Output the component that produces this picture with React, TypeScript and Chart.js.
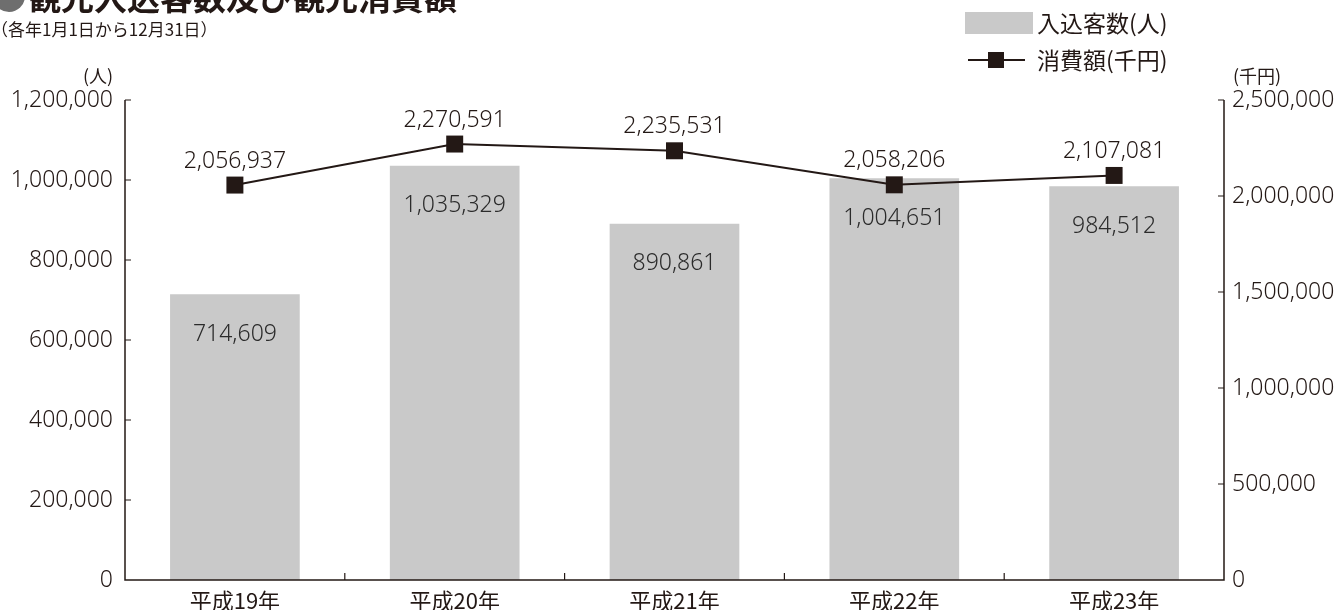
import React, { useEffect, useRef } from "react";
import { Chart, registerables } from "chart.js";

Chart.register(...registerables);

const categories = ["平成19年", "平成20年", "平成21年", "平成22年", "平成23年"];
const visitors = [714609, 1035329, 890861, 1004651, 984512];
const spending = [2056937, 2270591, 2235531, 2058206, 2107081];
const leftTicks = { min: 0, max: 1200000, step: 200000 };
const rightTicks = { min: 0, max: 2500000, step: 500000 };

const TITLE = "観光入込客数及び観光消費額";
const SUBTITLE = "（各年1月1日から12月31日）";
const LEGEND_BAR = "入込客数(人)";
const LEGEND_LINE = "消費額(千円)";
const UNIT_LEFT = "(人)";
const UNIT_RIGHT = "(千円)";

const INK = "#231815";
const BAR = "#c9c9c9";
const NUM_FONT = '"Noto Sans", "Noto Sans CJK JP", sans-serif';
const JP_FONT = '"Noto Sans CJK JP", "Noto Sans", sans-serif';

const fmt = (v: number) => v.toLocaleString("en-US");

const decorPlugin = {
  id: "decor",
  afterDraw(chart: any) {
    const { ctx, chartArea } = chart;
    const { left, right, top, bottom } = chartArea;
    const y = chart.scales.y;
    const y1 = chart.scales.y1;
    const x = chart.scales.x;
    ctx.save();

    // axes
    ctx.strokeStyle = INK;
    ctx.lineWidth = 1.5;
    ctx.beginPath();
    ctx.moveTo(left, top);
    ctx.lineTo(left, bottom);
    ctx.lineTo(right, bottom);
    ctx.lineTo(right, top);
    ctx.stroke();

    // inward tick marks
    ctx.lineWidth = 1.2;
    ctx.beginPath();
    y.ticks.forEach((t: any) => {
      const py = y.getPixelForValue(t.value);
      if (t.value === 0) return;
      ctx.moveTo(left, py);
      ctx.lineTo(left + 6, py);
    });
    y1.ticks.forEach((t: any) => {
      const py = y1.getPixelForValue(t.value);
      if (t.value === 0) return;
      ctx.moveTo(right, py);
      ctx.lineTo(right - 6, py);
    });
    for (let i = 1; i < categories.length; i++) {
      const px = (x.getPixelForValue(i - 1) + x.getPixelForValue(i)) / 2;
      ctx.moveTo(px, bottom);
      ctx.lineTo(px, bottom - 7);
    }
    ctx.stroke();

    // data labels
    ctx.font = `300 23px ${NUM_FONT}`;
    ctx.textAlign = "center";
    ctx.textBaseline = "middle";
    ctx.fillStyle = "#2b2b2b";
    chart.getDatasetMeta(0).data.forEach((el: any, i: number) => {
      ctx.fillText(fmt(visitors[i]), el.x, el.y + 40);
    });
    ctx.fillStyle = INK;
    chart.getDatasetMeta(1).data.forEach((el: any, i: number) => {
      ctx.fillText(fmt(spending[i]), el.x, el.y - 24);
    });

    // units
    ctx.font = `400 18px ${JP_FONT}`;
    ctx.textAlign = "center";
    ctx.fillText(UNIT_LEFT, 98, 76);
    ctx.textAlign = "left";
    ctx.fillText(UNIT_RIGHT, 1233, 76);

    // title (cut off at top)
    ctx.textBaseline = "alphabetic";
    ctx.font = `700 33px ${JP_FONT}`;
    ctx.fillStyle = "#6e6e6e";
    ctx.beginPath();
    ctx.arc(9, -4, 16, 0, Math.PI * 2);
    ctx.fill();
    ctx.fillStyle = INK;
    ctx.fillText(TITLE, 28, 10);

    // subtitle
    ctx.font = `400 17px ${JP_FONT}`;
    ctx.textBaseline = "middle";
    ctx.fillText(SUBTITLE, -9, 30);

    // legend
    ctx.fillStyle = BAR;
    ctx.fillRect(965, 12, 68, 22);
    ctx.strokeStyle = INK;
    ctx.lineWidth = 2;
    ctx.beginPath();
    ctx.moveTo(968, 60);
    ctx.lineTo(1025, 60);
    ctx.stroke();
    ctx.fillStyle = INK;
    ctx.fillRect(988, 52, 16, 16);
    ctx.font = `400 23px ${JP_FONT}`;
    ctx.textAlign = "left";
    ctx.textBaseline = "middle";
    ctx.fillText(LEGEND_BAR, 1037, 23);
    ctx.fillText(LEGEND_LINE, 1037, 60);

    ctx.restore();
  },
};

export default function App() {
  const ref = useRef<HTMLCanvasElement | null>(null);
  useEffect(() => {
    document.body.style.margin = "0";
    const canvas = ref.current;
    if (!canvas) return;
    const chart = new Chart(canvas, {
      type: "bar",
      data: {
        labels: categories,
        datasets: [
          {
            type: "bar",
            label: LEGEND_BAR,
            data: visitors,
            backgroundColor: BAR,
            borderWidth: 0,
            barPercentage: 0.59,
            categoryPercentage: 1,
            yAxisID: "y",
            order: 2,
          },
          {
            type: "line",
            label: LEGEND_LINE,
            data: spending,
            borderColor: INK,
            borderWidth: 2,
            backgroundColor: INK,
            pointStyle: "rect",
            pointRadius: 12,
            pointBackgroundColor: INK,
            pointBorderWidth: 0,
            tension: 0,
            yAxisID: "y1",
            order: 1,
          } as any,
        ],
      },
      options: {
        responsive: false,
        animation: false,
        layout: { padding: { left: 0, right: 0, top: 100, bottom: 0 } },
        plugins: { legend: { display: false }, tooltip: { enabled: false } },
        scales: {
          x: {
            grid: { display: false, drawTicks: false },
            border: { display: false },
            ticks: { color: INK, padding: 7, font: { family: JP_FONT, size: 22 } },
            afterFit: (s: any) => {
              s.height = 30;
            },
          },
          y: {
            position: "left",
            min: leftTicks.min,
            max: leftTicks.max,
            grid: { display: false, drawTicks: false },
            border: { display: false },
            ticks: {
              stepSize: leftTicks.step,
              color: INK,
              padding: 12,
              font: { family: NUM_FONT, size: 23, weight: 300 },
              callback: (v: any) => fmt(Number(v)),
            },
            afterFit: (s: any) => {
              s.width = 125;
            },
          },
          y1: {
            position: "right",
            min: rightTicks.min,
            max: rightTicks.max,
            grid: { display: false, drawTicks: false },
            border: { display: false },
            ticks: {
              stepSize: rightTicks.step,
              color: INK,
              padding: 8,
              font: { family: NUM_FONT, size: 23, weight: 300 },
              callback: (v: any) => fmt(Number(v)),
            },
            afterFit: (s: any) => {
              s.width = 117;
            },
          },
        },
      },
      plugins: [decorPlugin],
    });
    return () => chart.destroy();
  }, []);
  return (
    <div style={{ position: "absolute", left: 0, top: 0, width: 1341, height: 610 }}>
      <canvas ref={ref} width={1341} height={610} />
    </div>
  );
}
